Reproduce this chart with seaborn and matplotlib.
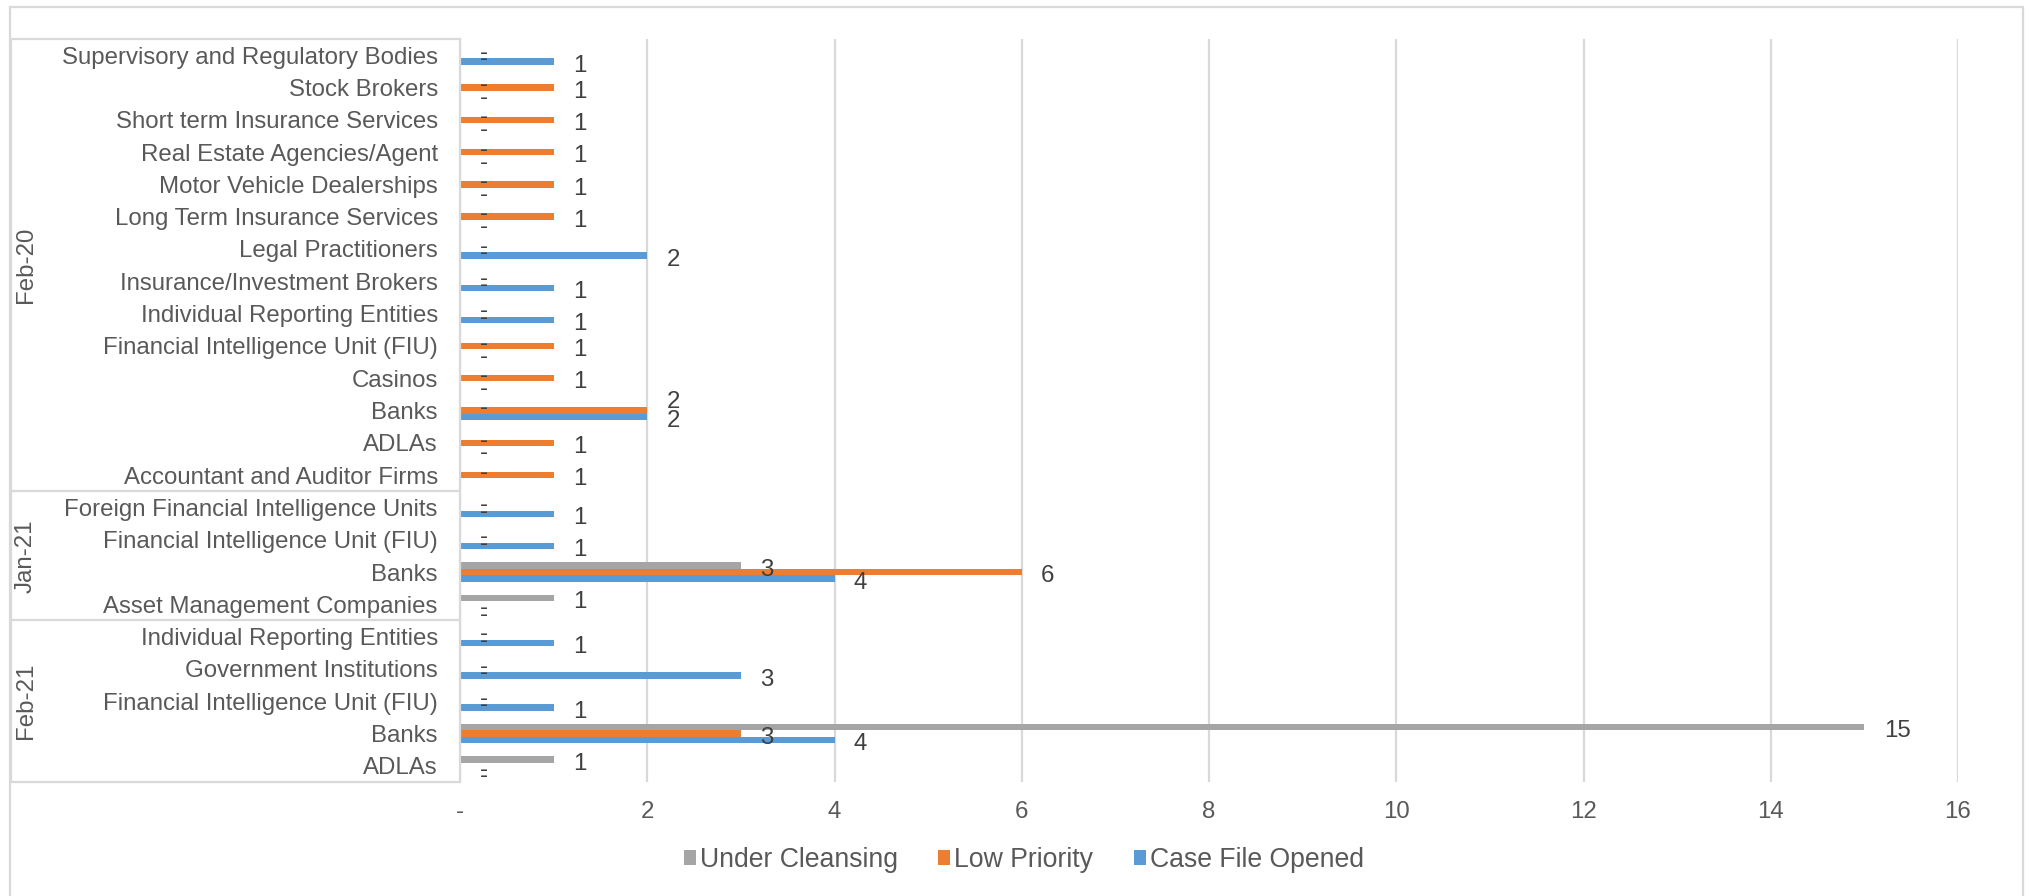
import numpy as np
import pandas as pd
import matplotlib
matplotlib.use("Agg")
import matplotlib.pyplot as plt
from matplotlib.patches import Patch, Rectangle
from matplotlib.transforms import blended_transform_factory
import seaborn as sns

# ---- data -------------------------------------------------------------
groups = (["Feb-20"] * 14) + (["Jan-21"] * 4) + (["Feb-21"] * 5)
categories = [
    "Supervisory and Regulatory Bodies",
    "Stock Brokers",
    "Short term Insurance Services",
    "Real Estate Agencies/Agent",
    "Motor Vehicle Dealerships",
    "Long Term Insurance Services",
    "Legal Practitioners",
    "Insurance/Investment Brokers",
    "Individual Reporting Entities",
    "Financial Intelligence Unit (FIU)",
    "Casinos",
    "Banks",
    "ADLAs",
    "Accountant and Auditor Firms",
    "Foreign Financial Intelligence Units",
    "Financial Intelligence Unit (FIU)",
    "Banks",
    "Asset Management Companies",
    "Individual Reporting Entities",
    "Government Institutions",
    "Financial Intelligence Unit (FIU)",
    "Banks",
    "ADLAs",
]
under_cleansing = [0, 0, 0, 0, 0, 0, 0, 0, 0, 0, 0, 0, 0, 0,
                   0, 0, 3, 1,
                   0, 0, 0, 15, 1]
low_priority = [0, 1, 1, 1, 1, 1, 0, 0, 0, 1, 1, 2, 1, 1,
                0, 0, 6, 0,
                0, 0, 0, 3, 0]
case_file_opened = [1, 0, 0, 0, 0, 0, 2, 1, 1, 0, 0, 2, 0, np.nan,
                    1, 1, 4, 0,
                    1, 3, 1, 4, 0]

series_names = ["Under Cleansing", "Low Priority", "Case File Opened"]
series_colors = ["#A5A5A5", "#ED7D31", "#5B9BD5"]
group_order = ["Feb-20", "Jan-21", "Feb-21"]
x_ticks = [0, 2, 4, 6, 8, 10, 12, 14, 16]
x_tick_labels = ["-", "2", "4", "6", "8", "10", "12", "14", "16"]

# ---- long-form table ---------------------------------------------------
row_keys = [f"{g} / {c}" for g, c in zip(groups, categories)]
frames = []
for name, vals in zip(series_names, [under_cleansing, low_priority, case_file_opened]):
    frames.append(pd.DataFrame({"row": row_keys, "series": name, "value": vals}))
df = pd.concat(frames, ignore_index=True).dropna(subset=["value"])

# ---- figure ------------------------------------------------------------
W, H = 2031, 896
sns.set_theme(style="white")
plt.rcParams["font.family"] = ["Liberation Sans", "DejaVu Sans"]
TEXT = "#595959"
LABEL = "#404040"
GRID = "#D9D9D9"
FS = 17.3

fig = plt.figure(figsize=(W / 100, H / 100), dpi=100)
x0, x1, y_top, y_bot = 460, 1958, 39, 782
ax = fig.add_axes([x0 / W, 1 - y_bot / H, (x1 - x0) / W, (y_bot - y_top) / H])

sns.barplot(
    data=df, x="value", y="row", hue="series",
    order=row_keys, hue_order=series_names,
    palette=series_colors, orient="h", width=0.6,
    errorbar=None, saturation=1, linewidth=0, ax=ax,
)
if ax.get_legend() is not None:
    ax.get_legend().remove()

ax.set_xlim(0, 16)
ax.set_ylim(len(row_keys) - 0.5, -0.5)
ax.set_xlabel("")
ax.set_ylabel("")
ax.set_xticks(x_ticks, x_tick_labels)
ax.set_yticks(range(len(row_keys)), categories)
ax.tick_params(axis="x", length=0, pad=14, labelsize=FS, labelcolor=TEXT)
ax.tick_params(axis="y", length=0, pad=16, labelsize=FS, labelcolor=TEXT)

ax.grid(axis="x", color=GRID, linewidth=1.6)
ax.grid(axis="y", visible=False)
ax.set_axisbelow(True)
for side in ["top", "right", "bottom"]:
    ax.spines[side].set_visible(False)
ax.spines["left"].set_color(GRID)
ax.spines["left"].set_linewidth(1.6)


def value_text(v):
    if v is None or np.isnan(v):
        return ""
    return "-" if v == 0 else f"{v:g}"


# value labels sit just right of each bar end, a touch below the bar centre
for name, cont in zip(series_names, ax.containers):
    texts = ax.bar_label(cont, fmt=value_text, padding=14, fontsize=FS, color=LABEL)
    for patch, t in zip(cont.patches, texts):
        row = int(round(patch.get_y() + patch.get_height() / 2))
        dy = -3
        # the two equal labels on Feb-20 Banks are pulled apart
        if row == 11 and name == "Low Priority":
            dy = 6
        t.xyann = (14, dy)

# ---- two-level category table on the left ------------------------------
tr = blended_transform_factory(ax.transAxes, ax.transData)
span = x1 - x0
xl = (11 - x0) / span
n = len(row_keys)
bounds = [-0.5]
for g in group_order:
    bounds.append(bounds[-1] + groups.count(g))
for b in bounds:
    ax.plot([xl, 0], [b, b], transform=tr, color=GRID, lw=1.6, clip_on=False)
ax.plot([xl, xl], [-0.5, n - 0.5], transform=tr, color=GRID, lw=1.6, clip_on=False)

xt = (26 - x0) / span
for g, lo, hi in zip(group_order, bounds[:-1], bounds[1:]):
    ax.text(xt, (lo + hi) / 2, g, transform=tr, rotation=90, ha="center",
            va="center", fontsize=FS, color=TEXT, clip_on=False)

# ---- legend --------------------------------------------------------------
handles = [Patch(facecolor=c, edgecolor="none", label=s)
           for s, c in zip(series_names, series_colors)]
fig.legend(handles=handles, loc="center", bbox_to_anchor=(1024 / W, 1 - 860 / H),
           ncol=3, frameon=False, fontsize=19.2, labelcolor=TEXT,
           handlelength=0.45, handleheight=0.45, handletextpad=0.15,
           columnspacing=1.5)

# ---- chart border ------------------------------------------------------
fig.patches.append(Rectangle((10 / W, -0.01), (2023 - 10) / W, 1.01 - 7 / H,
                             transform=fig.transFigure, fill=False,
                             edgecolor=GRID, linewidth=1.6))

fig.savefig("out.png", dpi=100, facecolor="white")
